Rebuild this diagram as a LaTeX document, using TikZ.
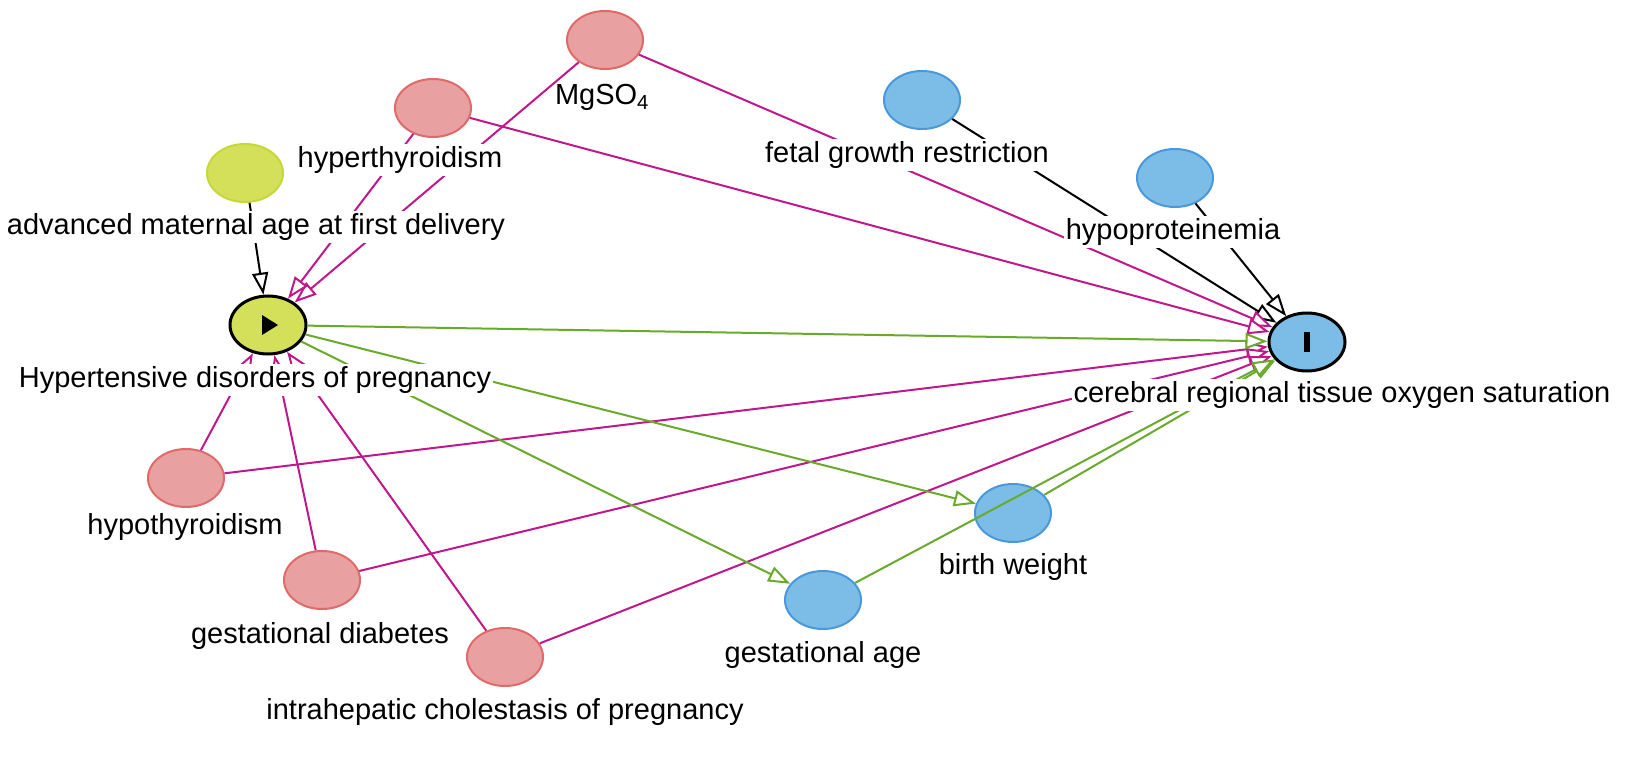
\documentclass[tikz,border=0pt]{standalone}
\usepackage{fontspec}
\setmainfont{Liberation Sans}
\usetikzlibrary{shapes.geometric,arrows.meta}
\definecolor{pk}{HTML}{E8A0A0}\definecolor{pkd}{HTML}{E06A6A}
\definecolor{bl}{HTML}{7BBDE6}\definecolor{bld}{HTML}{4A98DC}
\definecolor{yl}{HTML}{D4E05A}\definecolor{yld}{HTML}{C4D83A}
\definecolor{mg}{HTML}{C0188C}\definecolor{gr}{HTML}{6AAA2A}
\begin{document}
\begin{tikzpicture}[x=1pt,y=-1pt,
 v/.style={ellipse,minimum width=76pt,minimum height=58pt,line width=2pt,inner sep=0},
 anc/.style={v,fill=pk,draw=pkd},
 oth/.style={v,fill=bl,draw=bld},
 ya/.style={v,fill=yl,draw=yld},
 lb/.style={font=\fontsize{29}{34}\selectfont,inner sep=2pt,fill=white},
 e/.style={line width=2pt,-{Triangle[open,length=22pt,width=16pt,fill=white]}},
 bk/.style={e,black},m/.style={e,mg},g/.style={e,gr}]
\useasboundingbox (0,0) rectangle (1648,767);
\node[anc] (mgso) at (605,40) {};
\node[anc] (hyper) at (433,108) {};
\node[ya] (age) at (245,173) {};
\node[v,fill=yl,draw=black,line width=3pt] (hdp) at (268,325) {};
\node[oth] (fgr) at (922,100) {};
\node[oth] (hypop) at (1175,178) {};
\node[v,fill=bl,draw=black,line width=3pt] (out) at (1307,342) {};
\node[anc] (hypo) at (186,478) {};
\node[anc] (gd) at (322,580) {};
\node[anc] (icp) at (505,657) {};
\node[oth] (ga) at (823,600) {};
\node[oth] (bw) at (1013,513) {};
\fill (262,315) -- (262,335) -- (278,325) -- cycle;
\fill (1304,332) rectangle (1310,352);
\draw[bk] (age) -- (hdp);
\draw[bk] (fgr) -- (out);
\draw[bk] (hypop) -- (out);
\foreach \s in {mgso,hyper,hypo,gd,icp}{\draw[m] (\s) -- (hdp); \draw[m] (\s) -- (out);}
\draw[g] (hdp) -- (out);
\draw[g] (hdp) -- (bw);
\draw[g] (hdp) -- (ga);
\draw[g] (bw) -- (out);
\draw[g] (ga) -- (out);
\node[lb,fill=none] at (602,97) {MgSO\textsubscript{4}};
\node[lb] at (400,160) {hyperthyroidism};
\node[lb] at (256,227) {advanced maternal age at first delivery};
\node[lb] at (255,380) {Hypertensive disorders of pregnancy};
\node[lb] at (907,155) {fetal growth restriction};
\node[lb] at (1173,232) {hypoproteinemia};
\node[lb] at (1342,395) {cerebral regional tissue oxygen saturation};
\node[lb] at (185,527) {hypothyroidism};
\node[lb] at (320,636) {gestational diabetes};
\node[lb] at (505,712) {intrahepatic cholestasis of pregnancy};
\node[lb] at (823,655) {gestational age};
\node[lb] at (1013,567) {birth weight};
\end{tikzpicture}
\end{document}
